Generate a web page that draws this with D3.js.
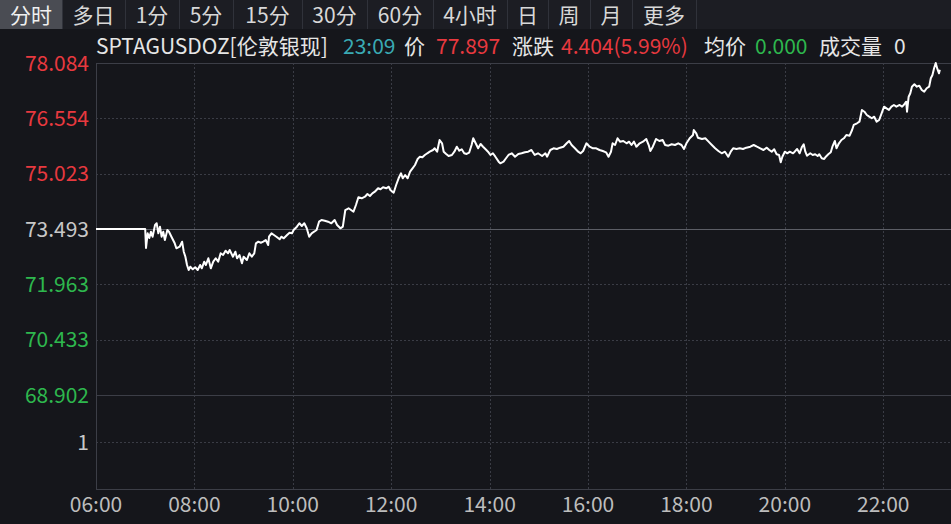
<!DOCTYPE html>
<html>
<head>
<meta charset="utf-8">
<script src="https://cdn.jsdelivr.net/npm/d3@7"></script>
<style>
  html, body { margin: 0; padding: 0; background: #15161b; }
  svg { display: block; }
  text { font-family: "Noto Sans CJK SC", "Noto Sans", sans-serif; }
</style>
</head>
<body>
<svg id="chart" width="951" height="524"></svg>
<script>
// ---------- data ----------
const tabs = ["分时", "多日", "1分", "5分", "15分", "30分", "60分", "4小时", "日", "周", "月", "更多"];
const symbol = "SPTAGUSDOZ[伦敦银现]";
const lastTime = "23:09";
const lastPrice = "77.897";
const change = "4.404(5.99%)";
const avgPrice = "0.000";
const volume = "0";
const prevClose = 73.493;
const priceTicks = [78.084, 76.554, 75.023, 73.493, 71.963, 70.433, 68.902];
const volTickLabels = ["1"];
const timeTicks = ["06:00", "08:00", "10:00", "12:00", "14:00", "16:00", "18:00", "20:00", "22:00"];

const times = [
"06:00","07:00","07:01","07:03","07:05","07:07","07:09","07:12","07:14","07:16","07:18","07:20","07:22","07:24","07:27","07:29","07:32","07:36","07:38","07:42","07:45","07:47","07:49","07:51","07:53","07:55","07:58",
"08:01","08:04","08:07","08:09","08:12","08:14","08:17","08:20","08:23","08:26","08:29","08:32","08:35","08:38","08:41","08:43","08:47","08:50","08:52","08:55","08:58",
"09:00","09:04","09:07","09:10","09:13","09:15","09:18","09:21","09:24","09:27","09:30","09:31","09:34","09:37","09:40","09:44","09:46","09:49","09:53","09:56","09:59",
"10:01","10:05","10:08","10:11","10:14","10:17","10:20","10:23","10:26","10:29","10:32","10:35","10:39","10:43","10:47","10:51","10:54","10:58",
"11:01","11:04","11:08","11:11","11:14","11:17","11:20","11:24","11:28","11:31","11:34","11:37","11:40","11:44","11:47","11:50","11:54","11:57","11:59",
"12:03","12:06","12:09","12:12","12:14","12:17","12:20","12:23","12:26","12:29","12:32","12:35","12:38","12:41","12:44","12:47","12:51","12:53","12:56","12:59",
"13:02","13:04","13:07","13:10","13:14","13:17","13:20","13:23","13:26","13:29","13:32","13:35","13:38","13:40","13:43","13:46","13:49","13:52","13:56","13:58",
"14:01","14:04","14:07","14:11","14:13","14:17","14:20","14:23","14:27","14:31","14:35","14:39","14:43","14:47","14:51","14:55","14:59",
"15:04","15:08","15:10","15:14","15:18","15:22","15:26","15:30","15:34","15:37","15:40","15:44","15:48","15:51","15:54","15:58",
"16:02","16:06","16:10","16:14","16:18","16:22","16:25","16:28","16:30","16:33","16:36","16:39","16:43","16:47","16:50","16:53","16:56","16:59",
"17:03","17:07","17:11","17:14","17:16","17:19","17:23","17:27","17:31","17:34","17:38","17:42","17:46","17:50","17:54","17:57",
"18:00","18:04","18:08","18:09","18:12","18:14","18:19","18:23","18:27","18:31","18:35","18:39","18:43","18:47","18:51","18:54","18:57",
"19:01","19:05","19:09","19:13","19:18","19:22","19:26","19:30","19:34","19:38","19:41","19:44","19:47","19:50","19:53","19:55","19:57",
"20:00","20:03","20:06","20:10","20:12","20:15","20:18","20:21","20:23","20:25","20:27","20:31","20:34","20:37","20:40","20:42","20:45","20:48","20:50","20:53","20:56","20:58",
"21:01","21:03","21:06","21:09","21:12","21:15","21:19","21:22","21:24","21:28","21:31","21:34","21:37","21:40","21:43","21:46","21:49","21:52","21:55","21:58",
"22:01","22:04","22:07","22:10","22:13","22:16","22:20","22:23","22:25","22:28","22:29","22:31","22:33","22:35","22:38","22:41","22:44","22:47","22:50","22:53","22:56","22:58",
"23:00","23:02","23:04","23:06","23:08","23:09"
];
const prices = [
73.493,73.493,72.968,73.374,73.244,73.418,73.280,73.604,73.651,73.374,73.557,73.280,73.418,73.189,73.465,73.418,73.280,73.097,72.959,73.003,73.142,72.865,72.727,72.497,72.359,72.450,72.378,
72.434,72.359,72.497,72.406,72.589,72.497,72.683,72.406,72.589,72.683,72.589,72.821,72.774,72.893,72.821,72.912,72.727,72.865,72.683,72.774,72.544,
72.727,72.636,72.821,72.727,72.821,73.097,73.142,73.114,73.142,73.189,73.050,73.280,73.374,73.327,73.280,73.208,73.280,73.236,73.327,73.391,73.374,
73.465,73.557,73.651,73.576,73.651,73.512,73.280,73.374,73.418,73.465,73.695,73.742,73.723,73.695,73.651,73.742,73.604,73.512,
73.557,74.018,74.066,74.018,73.971,74.157,74.370,74.342,74.386,74.461,74.406,74.480,74.525,74.619,74.591,74.646,74.619,74.663,74.572,
74.497,74.710,74.895,75.034,74.895,74.987,74.895,75.078,75.172,75.263,75.421,75.493,75.476,75.540,75.587,75.631,75.678,75.725,75.631,75.955,
75.863,75.631,75.568,75.512,75.540,75.631,75.769,75.659,75.697,75.587,75.568,75.603,75.816,76.002,75.863,75.725,75.844,75.769,75.678,75.631,
75.540,75.587,75.493,75.355,75.310,75.355,75.449,75.540,75.587,75.493,75.568,75.587,75.614,75.631,75.678,75.540,75.587,
75.512,75.587,75.493,75.678,75.725,75.706,75.742,75.769,75.863,75.927,75.816,75.725,75.631,75.587,75.650,75.863,
75.769,75.725,75.725,75.678,75.650,75.614,75.493,75.631,75.863,75.816,76.002,75.908,75.927,75.863,75.908,75.816,75.908,75.769,
75.863,75.908,75.982,75.816,75.650,75.769,75.982,75.927,75.955,75.816,75.797,75.836,75.816,75.863,75.816,75.706,
75.863,76.002,76.093,76.231,76.140,76.018,75.982,76.002,75.908,75.816,75.725,75.650,75.587,75.631,75.493,75.631,75.725,
75.706,75.725,75.706,75.742,75.769,75.816,75.769,75.725,75.678,75.742,75.678,75.631,75.697,75.559,75.540,75.338,75.493,
75.631,75.587,75.631,75.587,75.631,75.706,75.587,75.769,75.836,75.631,75.520,75.587,75.540,75.559,75.512,75.559,75.449,75.429,75.493,75.559,75.614,75.769,
75.927,75.725,75.863,75.955,76.002,76.093,76.074,76.231,76.370,76.417,76.461,76.785,76.737,76.646,76.599,76.555,76.599,76.461,76.508,76.693,
76.876,76.831,76.785,76.876,76.923,76.876,76.923,76.876,76.923,77.014,76.737,77.152,77.246,77.429,77.495,77.429,77.457,77.337,77.291,77.385,77.429,77.661,
77.752,77.938,78.084,77.919,77.800,77.897
];

// ---------- layout ----------
const W = 951, H = 524;
const FS = 21;
const plot = { left: 96, top: 63, priceBottom: 395, bottom: 489, right: W };
const tabWidths = [62, 63, 54, 54, 69, 65, 66, 74, 41, 42, 42, 64];
const colors = {
  bg: "#15161b", tabBg: "#1c1d23", tabSel: "#4a4c53", tabSep: "#30323a",
  text: "#e6e6e6", red: "#e8393f", green: "#2eb84e", teal: "#3aaab4",
  gray: "#c8c8c8", grid: "#3a3c45", border: "#3c3e47"
};

const svg = d3.select("#chart");
svg.append("rect").attr("width", W).attr("height", H).attr("fill", colors.bg);

// ---------- tab bar ----------
const tabG = svg.append("g");
tabG.append("rect").attr("x", 0).attr("y", 0).attr("width", W).attr("height", 29).attr("fill", colors.tabBg);
let tx = 0;
tabs.forEach((t, i) => {
  const w = tabWidths[i];
  if (i === 0) tabG.append("rect").attr("x", tx).attr("y", 0).attr("width", w).attr("height", 29).attr("fill", colors.tabSel);
  tabG.append("text").attr("x", tx + w / 2).attr("y", 15.5).attr("dy", "0.36em")
    .attr("text-anchor", "middle").attr("font-size", FS).attr("fill", i === 0 ? "#f0f0f0" : "#d8d8d8").text(t);
  tabG.append("line").attr("x1", tx + w + 0.5).attr("x2", tx + w + 0.5).attr("y1", 0).attr("y2", 29)
    .attr("stroke", colors.tabSep).attr("stroke-width", 1);
  tx += w;
});

// ---------- header info ----------
const header = [
  { t: symbol, x: 96, c: colors.text },
  { t: lastTime, x: 343, c: colors.teal },
  { t: "价", x: 404, c: colors.text },
  { t: lastPrice, x: 436, c: colors.red },
  { t: "涨跌", x: 512, c: colors.text },
  { t: change, x: 561, c: colors.red },
  { t: "均价", x: 704, c: colors.text },
  { t: avgPrice, x: 755, c: colors.green },
  { t: "成交量", x: 819, c: colors.text },
  { t: volume, x: 894, c: colors.text }
];
svg.append("g").selectAll("text").data(header).join("text")
  .attr("x", d => d.x).attr("y", 46.5).attr("dy", "0.36em")
  .attr("font-size", FS).attr("fill", d => d.c).text(d => d.t);

// ---------- scales ----------
const parse = d3.timeParse("%H:%M");
const x = d3.scaleTime().domain([parse("06:00"), parse("23:23")]).range([plot.left, 951.3]);
const y = d3.scaleLinear().domain([68.902, 78.084]).range([plot.priceBottom, plot.top]);
const yVol = d3.scaleLinear().domain([0, 2]).range([plot.bottom, plot.priceBottom]);

const data = times.map((t, i) => ({ t: parse(t), v: prices[i] }));

// ---------- grid ----------
const grid = svg.append("g");
grid.selectAll("line.h").data(priceTicks.filter(v => v !== prevClose && v !== 78.084 && v !== 68.902)).join("line")
  .attr("x1", plot.left).attr("x2", W).attr("y1", d => Math.round(y(d)) + 0.5).attr("y2", d => Math.round(y(d)) + 0.5)
  .attr("stroke", colors.grid).attr("stroke-dasharray", "2,2");
grid.append("line").attr("x1", plot.left).attr("x2", W)
  .attr("y1", Math.round(yVol(1)) + 0.5).attr("y2", Math.round(yVol(1)) + 0.5)
  .attr("stroke", colors.grid).attr("stroke-dasharray", "2,2");
grid.selectAll("line.v").data(timeTicks.slice(1)).join("line")
  .attr("x1", d => Math.round(x(parse(d))) + 0.5).attr("x2", d => Math.round(x(parse(d))) + 0.5)
  .attr("y1", plot.top).attr("y2", plot.bottom)
  .attr("stroke", colors.grid).attr("stroke-dasharray", "2,2");
grid.append("line").attr("x1", plot.left + 0.5).attr("x2", plot.left + 0.5).attr("y1", plot.top).attr("y2", plot.bottom).attr("stroke", colors.border);
grid.append("line").attr("x1", plot.left).attr("x2", W).attr("y1", plot.top + 0.5).attr("y2", plot.top + 0.5).attr("stroke", colors.border);
grid.append("line").attr("x1", plot.left).attr("x2", W).attr("y1", plot.priceBottom + 0.5).attr("y2", plot.priceBottom + 0.5).attr("stroke", colors.border);
grid.append("line").attr("x1", plot.left).attr("x2", W).attr("y1", plot.bottom + 0.5).attr("y2", plot.bottom + 0.5).attr("stroke", colors.border);
grid.append("line").attr("x1", plot.left).attr("x2", W)
  .attr("y1", Math.round(y(prevClose)) + 0.5).attr("y2", Math.round(y(prevClose)) + 0.5)
  .attr("stroke", "#5c5e66").attr("stroke-width", 1.2);

// ---------- y labels ----------
svg.append("g").selectAll("text").data(priceTicks).join("text")
  .attr("x", 89).attr("y", d => y(d)).attr("dy", "0.36em").attr("text-anchor", "end")
  .attr("font-size", FS)
  .attr("fill", d => d > prevClose ? colors.red : d < prevClose ? colors.green : colors.gray)
  .text(d => d.toFixed(3));
svg.append("g").selectAll("text").data(volTickLabels).join("text")
  .attr("x", 89).attr("y", d => yVol(+d)).attr("dy", "0.36em").attr("text-anchor", "end")
  .attr("font-size", FS).attr("fill", colors.gray).text(d => d);

// ---------- x labels ----------
svg.append("g").selectAll("text").data(timeTicks).join("text")
  .attr("x", d => x(parse(d))).attr("y", 504).attr("dy", "0.36em").attr("text-anchor", "middle")
  .attr("font-size", FS).attr("fill", "#bdbdbd").text(d => d);

// ---------- price line ----------
svg.append("path").datum(data)
  .attr("fill", "none").attr("stroke", "#ffffff").attr("stroke-width", 2).attr("stroke-linejoin", "round")
  .attr("d", d3.line().x(d => x(d.t)).y(d => y(d.v)));
</script>
</body>
</html>
